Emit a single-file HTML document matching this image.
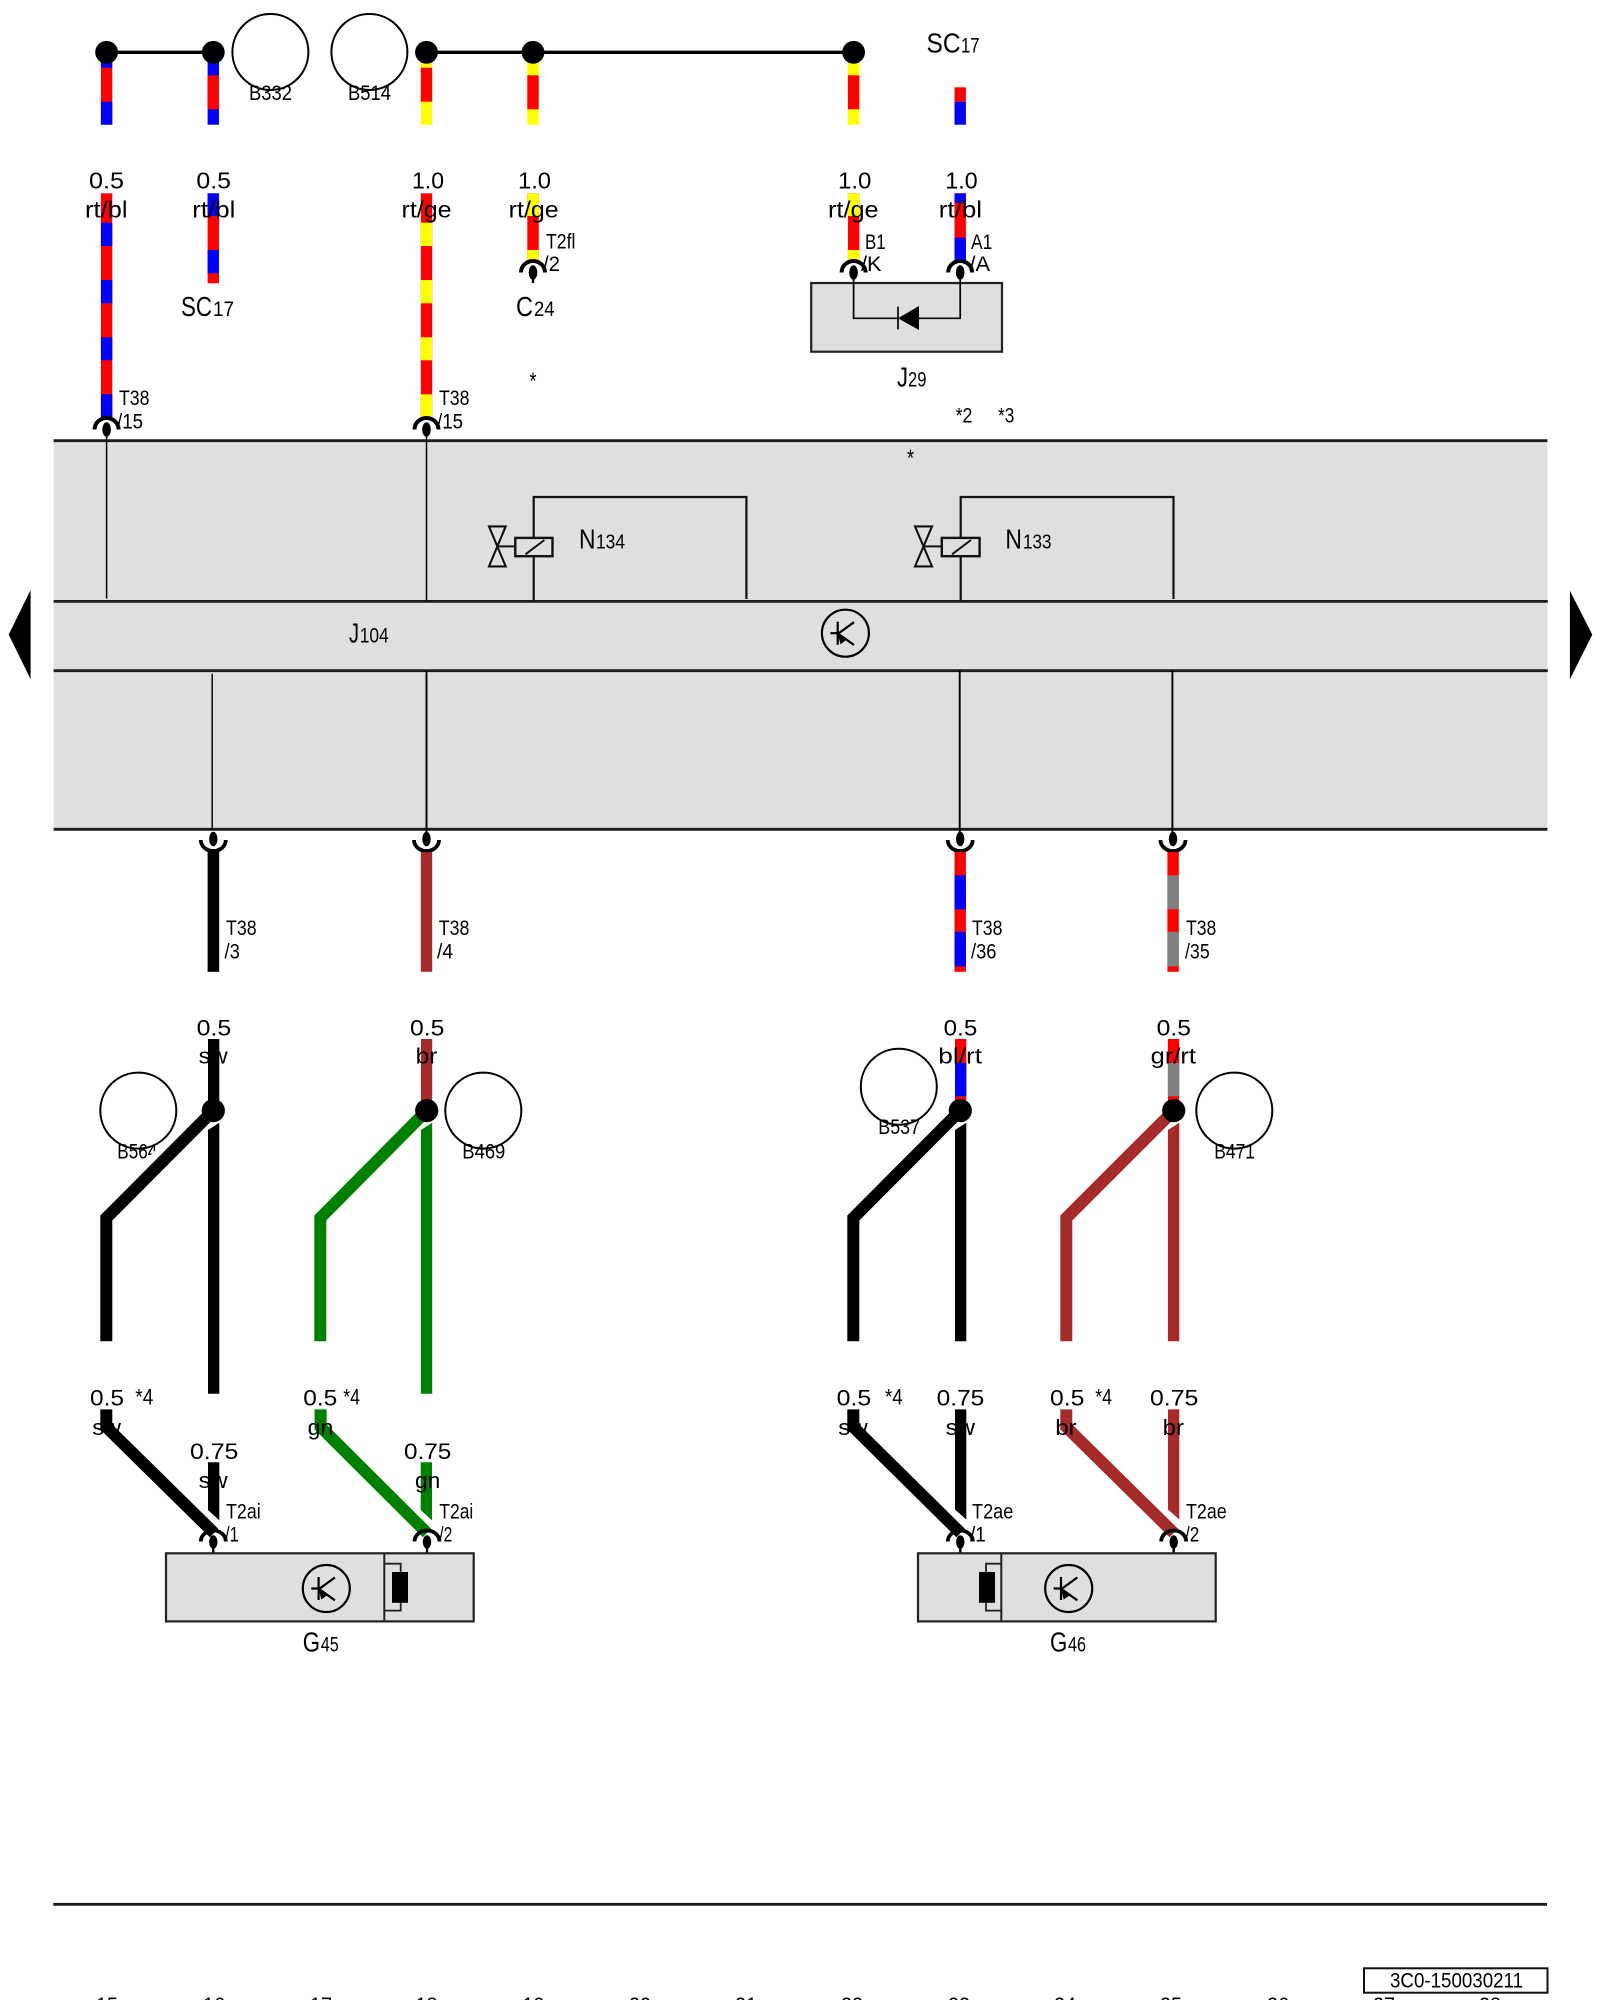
<!DOCTYPE html>
<html><head><meta charset="utf-8"><style>
html,body{margin:0;padding:0;background:#fff}
svg{display:block}
text{font-family:"Liberation Sans",sans-serif;fill:#000}
.t{fill:none;stroke:#000;stroke-width:1.7}
</style></head><body>
<svg xmlns="http://www.w3.org/2000/svg" width="1600" height="2000" viewBox="0 0 1600 2000">
<rect width="1600" height="2000" fill="#fff"/>

<!-- panel -->
<rect x="53.6" y="440.7" width="1493.8" height="388.6" fill="#dfdfdf"/>
<g stroke="#1c1c1c" stroke-width="2.8">
<line x1="53.6" y1="440.7" x2="1547.4" y2="440.7"/>
<line x1="53.6" y1="601.4" x2="1547.8" y2="601.4"/>
<line x1="53.6" y1="670.7" x2="1547.8" y2="670.7"/>
<line x1="53.6" y1="829.3" x2="1547.4" y2="829.3"/>
</g>

<!-- top bus -->
<g stroke="#000" stroke-width="3.4">
<line x1="106.6" y1="52.3" x2="213.3" y2="52.3"/>
<line x1="426.5" y1="52.3" x2="853.6" y2="52.3"/>
</g>

<!-- upper wire stubs -->
<g>
<rect x="100.9" y="60" width="11.4" height="64.7" fill="#f00"/><rect x="100.9" y="60" width="11.4" height="7.7" fill="#00f"/><rect x="100.9" y="101.7" width="11.4" height="23" fill="#00f"/>
<rect x="207.6" y="60" width="11.4" height="64.7" fill="#00f"/><rect x="207.6" y="75.3" width="11.4" height="34" fill="#f00"/>
<rect x="420.8" y="60" width="11.4" height="64.7" fill="#ff0"/><rect x="420.8" y="67.7" width="11.4" height="34" fill="#f00"/>
<rect x="527.3" y="60" width="11.4" height="64.7" fill="#ff0"/><rect x="527.3" y="75.3" width="11.4" height="34" fill="#f00"/>
<rect x="847.9" y="60" width="11.4" height="64.7" fill="#ff0"/><rect x="847.9" y="75.3" width="11.4" height="34" fill="#f00"/>
<rect x="954.5" y="87.3" width="11.4" height="14.4" fill="#f00"/><rect x="954.5" y="101.7" width="11.4" height="23" fill="#00f"/>
</g>
<g fill="#000">
<circle cx="106.6" cy="52.3" r="11.4"/><circle cx="213.3" cy="52.3" r="11.4"/><circle cx="426.5" cy="52.3" r="11.4"/><circle cx="533" cy="52.3" r="11.4"/><circle cx="853.6" cy="52.3" r="11.4"/>
</g>
<g fill="none" stroke="#000" stroke-width="2">
<circle cx="270.4" cy="52" r="38"/><circle cx="369.4" cy="52" r="38"/>
</g>
<text x="249" y="100" font-size="21" textLength="43" lengthAdjust="spacingAndGlyphs">B332</text>
<text x="348" y="100" font-size="21" textLength="43" lengthAdjust="spacingAndGlyphs">B514</text>
<text x="926.5" y="52.3" font-size="28" textLength="34" lengthAdjust="spacingAndGlyphs">SC</text>
<text x="961" y="52.3" font-size="21" textLength="18.6" lengthAdjust="spacingAndGlyphs">17</text>

<!-- long wires -->
<g>
<rect x="100.9" y="193.3" width="11.4" height="224" fill="#f00"/>
<rect x="100.9" y="222.7" width="11.4" height="23.3" fill="#00f"/><rect x="100.9" y="280" width="11.4" height="23.3" fill="#00f"/><rect x="100.9" y="337.3" width="11.4" height="23" fill="#00f"/><rect x="100.9" y="394.3" width="11.4" height="23" fill="#00f"/>
<rect x="420.8" y="193.3" width="11.4" height="224" fill="#f00"/>
<rect x="420.8" y="222.7" width="11.4" height="23.3" fill="#ff0"/><rect x="420.8" y="280" width="11.4" height="23.3" fill="#ff0"/><rect x="420.8" y="337.3" width="11.4" height="23" fill="#ff0"/><rect x="420.8" y="394.3" width="11.4" height="23" fill="#ff0"/>
<rect x="207.6" y="193.3" width="11.4" height="90" fill="#f00"/><rect x="207.6" y="193.3" width="11.4" height="22.7" fill="#00f"/><rect x="207.6" y="250" width="11.4" height="23.3" fill="#00f"/>
<rect x="527.3" y="193.3" width="11.4" height="67" fill="#f00"/><rect x="527.3" y="193.3" width="11.4" height="22.7" fill="#ff0"/><rect x="527.3" y="250" width="11.4" height="10.3" fill="#ff0"/>
<rect x="847.9" y="193.3" width="11.4" height="67" fill="#f00"/><rect x="847.9" y="193.3" width="11.4" height="22.7" fill="#ff0"/><rect x="847.9" y="250" width="11.4" height="10.3" fill="#ff0"/>
<rect x="954.5" y="193.3" width="11.4" height="67" fill="#f00"/><rect x="954.5" y="193.3" width="11.4" height="9.4" fill="#00f"/><rect x="954.5" y="237.7" width="11.4" height="22.6" fill="#00f"/>
</g>

<!-- top labels -->
<g font-size="23">
<text x="89" y="188.7" textLength="35" lengthAdjust="spacingAndGlyphs">0.5</text>
<text x="85" y="217.7" textLength="42.5" lengthAdjust="spacingAndGlyphs">rt/bl</text>
<text x="196.4" y="188.7" textLength="34.6" lengthAdjust="spacingAndGlyphs">0.5</text>
<text x="192.3" y="217.7" textLength="43" lengthAdjust="spacingAndGlyphs">rt/bl</text>
<text x="412" y="188.7" textLength="32" lengthAdjust="spacingAndGlyphs">1.0</text>
<text x="401.5" y="217.7" textLength="50" lengthAdjust="spacingAndGlyphs">rt/ge</text>
<text x="518" y="188.7" textLength="33" lengthAdjust="spacingAndGlyphs">1.0</text>
<text x="508.7" y="217.7" textLength="50" lengthAdjust="spacingAndGlyphs">rt/ge</text>
<text x="838" y="188.7" textLength="33.4" lengthAdjust="spacingAndGlyphs">1.0</text>
<text x="828" y="217.7" textLength="50.6" lengthAdjust="spacingAndGlyphs">rt/ge</text>
<text x="945.4" y="188.7" textLength="32.2" lengthAdjust="spacingAndGlyphs">1.0</text>
<text x="938.8" y="217.7" textLength="43.2" lengthAdjust="spacingAndGlyphs">rt/bl</text>
</g>
<g font-size="21">
<text x="119" y="405" textLength="30.5" lengthAdjust="spacingAndGlyphs">T38</text>
<text x="117" y="428.3" textLength="26" lengthAdjust="spacingAndGlyphs">/15</text>
<text x="439" y="405" textLength="30.5" lengthAdjust="spacingAndGlyphs">T38</text>
<text x="437" y="428.3" textLength="26" lengthAdjust="spacingAndGlyphs">/15</text>
<text x="546" y="248.3" textLength="29.5" lengthAdjust="spacingAndGlyphs">T2fl</text>
<text x="543" y="271" textLength="17" lengthAdjust="spacingAndGlyphs">/2</text>
<text x="865" y="249" textLength="20.7" lengthAdjust="spacingAndGlyphs">B1</text>
<text x="861" y="271" textLength="20.6" lengthAdjust="spacingAndGlyphs">/K</text>
<text x="971" y="249" textLength="21.3" lengthAdjust="spacingAndGlyphs">A1</text>
<text x="969.4" y="271" textLength="20.6" lengthAdjust="spacingAndGlyphs">/A</text>
<text x="955.6" y="422.6" textLength="16.8" lengthAdjust="spacingAndGlyphs">*2</text>
<text x="998" y="422.6" textLength="16.3" lengthAdjust="spacingAndGlyphs">*3</text>
</g>
<text x="181" y="316" font-size="28" textLength="31" lengthAdjust="spacingAndGlyphs">SC</text>
<text x="213" y="316" font-size="21" textLength="21" lengthAdjust="spacingAndGlyphs">17</text>
<text x="516" y="316" font-size="28" textLength="17" lengthAdjust="spacingAndGlyphs">C</text>
<text x="534" y="316" font-size="21" textLength="20.6" lengthAdjust="spacingAndGlyphs">24</text>
<text x="529.5" y="389" font-size="24" textLength="7" lengthAdjust="spacingAndGlyphs">*</text>
<text x="907" y="466" font-size="24" textLength="7" lengthAdjust="spacingAndGlyphs">*</text>

<!-- top connectors -->
<g fill="none" stroke="#000" stroke-width="4">
<path d="M94.6,429.5 A12,11.5 0 0 1 118.6,429.5"/>
<path d="M414.5,429.5 A12,11.5 0 0 1 438.5,429.5"/>
<path d="M521,272.5 A12,11.5 0 0 1 545,272.5"/>
<path d="M841.6,272.5 A12,11.5 0 0 1 865.6,272.5"/>
<path d="M948.2,272.5 A12,11.5 0 0 1 972.2,272.5"/>
</g>
<g fill="#000">
<ellipse cx="106.6" cy="429.5" rx="4.3" ry="7.3"/><ellipse cx="426.5" cy="429.5" rx="4.3" ry="7.3"/><ellipse cx="533" cy="272.5" rx="4.3" ry="7.3"/><ellipse cx="853.6" cy="272.5" rx="4.3" ry="7.3"/><ellipse cx="960.2" cy="272.5" rx="4.3" ry="7.3"/>
</g>
<g stroke="#000" stroke-width="1.5">
<line x1="106.6" y1="430" x2="106.6" y2="598.6"/>
<line x1="426.5" y1="430" x2="426.5" y2="601"/>
<line x1="533" y1="273" x2="533" y2="283" stroke-width="2.4"/>
</g>

<!-- J29 -->
<rect x="811.2" y="283" width="190.8" height="68.7" fill="#dfdfdf" stroke="#222" stroke-width="2.2"/>
<path d="M853.6,273 V318.3 H898 M919,318.3 H960.2 V273" class="t"/>
<line x1="898" y1="306.7" x2="898" y2="329.3" stroke="#000" stroke-width="1.7"/>
<polygon points="898,318.3 919,306 919,330" fill="#000"/>
<text x="897" y="386.7" font-size="28" textLength="11" lengthAdjust="spacingAndGlyphs">J</text>
<text x="908" y="386.7" font-size="21" textLength="18.5" lengthAdjust="spacingAndGlyphs">29</text>

<!-- N134 -->
<path d="M533.7,601 V497 H746.4 V599" fill="none" stroke="#111" stroke-width="2.2"/>
<rect x="515.3" y="537.9" width="37.2" height="18.3" fill="#dfdfdf" stroke="#111" stroke-width="2.4"/>
<line x1="525.5" y1="554.3" x2="544.4" y2="540" stroke="#111" stroke-width="2"/>
<line x1="497.5" y1="546.4" x2="515.3" y2="546.4" stroke="#111" stroke-width="2"/>
<path d="M489,526.4 H505.7 L489,566.4 H505.7 Z" fill="none" stroke="#111" stroke-width="2.1"/>
<text x="579" y="548.4" font-size="28" textLength="16.5" lengthAdjust="spacingAndGlyphs">N</text>
<text x="596" y="548.4" font-size="20" textLength="29" lengthAdjust="spacingAndGlyphs">134</text>

<!-- N133 -->
<path d="M960.7,601 V497 H1173.5 V599" fill="none" stroke="#111" stroke-width="2.2"/>
<rect x="941.8" y="537.9" width="37.8" height="18.3" fill="#dfdfdf" stroke="#111" stroke-width="2.4"/>
<line x1="952" y1="554.3" x2="971" y2="540" stroke="#111" stroke-width="2"/>
<line x1="923.4" y1="546.4" x2="941.8" y2="546.4" stroke="#111" stroke-width="2"/>
<path d="M915,526.4 H932 L915,566.4 H932 Z" fill="none" stroke="#111" stroke-width="2.1"/>
<text x="1005.4" y="548.4" font-size="28" textLength="16.5" lengthAdjust="spacingAndGlyphs">N</text>
<text x="1023" y="548.4" font-size="20" textLength="28.5" lengthAdjust="spacingAndGlyphs">133</text>

<!-- arrows -->
<polygon points="8.7,634.6 30.6,590 30.6,679.3" fill="#000"/>
<polygon points="1569.9,590.7 1592.3,634.6 1569.9,679.3" fill="#000"/>

<!-- J104 -->
<text x="349" y="642.5" font-size="28" textLength="10" lengthAdjust="spacingAndGlyphs">J</text>
<text x="359.7" y="642.5" font-size="21" textLength="29" lengthAdjust="spacingAndGlyphs">104</text>

<!-- transistor J104 -->
<g transform="translate(845.4,633.2)">
<circle r="23.5" fill="none" stroke="#000" stroke-width="2.2"/>
<path d="M-7.7,-11.5 V11.5 M-15,0 H-7.7 M-7.7,0.8 L8.6,-11 M-5.4,1.8 L8.6,11.8" fill="none" stroke="#000" stroke-width="2.2"/>
<polygon points="-8,-1 2,6 -5,11" fill="#000"/>
</g>

<!-- drop lines -->
<g stroke="#000">
<line x1="212.2" y1="673.6" x2="212.2" y2="830" stroke-width="1.4"/>
<line x1="426.5" y1="671" x2="426.5" y2="840" stroke-width="1.9"/>
<line x1="959.7" y1="670" x2="959.7" y2="840" stroke-width="1.9"/>
<line x1="1172.4" y1="670" x2="1172.4" y2="840" stroke-width="1.9"/>
</g>
<!-- lower connectors -->
<g fill="none" stroke="#000" stroke-width="3.8">
<path d="M200.8,840 A12.5,11 0 0 0 225.8,840"/>
<path d="M414,840 A12.5,11 0 0 0 439,840"/>
<path d="M947.7,840 A12.5,11 0 0 0 972.7,840"/>
<path d="M1160.5,840 A12.5,11 0 0 0 1185.5,840"/>
</g>
<g fill="#000">
<ellipse cx="213.3" cy="839" rx="4.2" ry="7.3"/><ellipse cx="426.5" cy="839" rx="4.2" ry="7.3"/><ellipse cx="960.2" cy="839" rx="4.2" ry="7.3"/><ellipse cx="1173" cy="839" rx="4.2" ry="7.3"/>
</g>
<!-- wires under panel -->
<rect x="207.6" y="852" width="11.6" height="119.8" fill="#000"/>
<rect x="420.8" y="852" width="11.4" height="119.8" fill="#a52a2a"/>
<rect x="954.5" y="852" width="11.4" height="119.8" fill="#f00"/>
<rect x="954.5" y="875.4" width="11.4" height="33.9" fill="#00f"/><rect x="954.5" y="931.8" width="11.4" height="34.6" fill="#00f"/>
<rect x="1167.4" y="852" width="11.4" height="119.8" fill="#f00"/>
<rect x="1167.4" y="875.4" width="11.4" height="33.9" fill="#808080"/><rect x="1167.4" y="931.8" width="11.4" height="34.6" fill="#808080"/>
<g font-size="21">
<text x="226" y="934.8" textLength="30.6" lengthAdjust="spacingAndGlyphs">T38</text>
<text x="224.5" y="958.3" textLength="15.3" lengthAdjust="spacingAndGlyphs">/3</text>
<text x="438.8" y="934.8" textLength="30.6" lengthAdjust="spacingAndGlyphs">T38</text>
<text x="437" y="958.3" textLength="16" lengthAdjust="spacingAndGlyphs">/4</text>
<text x="972" y="934.8" textLength="30.5" lengthAdjust="spacingAndGlyphs">T38</text>
<text x="971" y="958.3" textLength="25.4" lengthAdjust="spacingAndGlyphs">/36</text>
<text x="1186" y="934.8" textLength="30.3" lengthAdjust="spacingAndGlyphs">T38</text>
<text x="1185" y="958.3" textLength="24.7" lengthAdjust="spacingAndGlyphs">/35</text>
</g>

<!-- sense circles/labels -->
<g fill="none" stroke="#000" stroke-width="2">
<circle cx="138.3" cy="1110.6" r="38"/><circle cx="483.3" cy="1110.6" r="38"/><circle cx="898.8" cy="1086.7" r="38"/><circle cx="1234.3" cy="1110.6" r="38"/>
</g>
<g font-size="21">
<text x="117.3" y="1158.5" textLength="40" lengthAdjust="spacingAndGlyphs">B564</text>
<text x="462.3" y="1158.5" textLength="43" lengthAdjust="spacingAndGlyphs">B469</text>
<text x="878.3" y="1134" textLength="41.7" lengthAdjust="spacingAndGlyphs">B537</text>
<text x="1214.3" y="1158.5" textLength="40.7" lengthAdjust="spacingAndGlyphs">B471</text>
</g>
<line x1="200" y1="1124" x2="140" y2="1184" stroke="#fff" stroke-width="26"/>

<!-- junction tops -->
<rect x="208" y="1039" width="11.3" height="72" fill="#000"/>
<rect x="420.9" y="1039" width="11.3" height="72" fill="#a52a2a"/>
<rect x="955" y="1039" width="11.3" height="72" fill="#f00"/><rect x="955" y="1063" width="11.3" height="33.3" fill="#00f"/>
<rect x="1167.9" y="1039" width="11.3" height="72" fill="#f00"/><rect x="1167.9" y="1063" width="11.3" height="33.3" fill="#808080"/>

<!-- branches -->
<g fill="none" stroke-width="12">
<path d="M213.3,1110.6 L106.3,1218 V1341.3" stroke="#000"/>
<path d="M426.7,1110.6 L320.3,1218 V1341.3" stroke="#008000"/>
<path d="M960.3,1110.6 L853.3,1218 V1341.3" stroke="#000"/>
<path d="M1173.7,1110.6 L1066.3,1218 V1341.3" stroke="#a52a2a"/>
</g>
<polygon points="208,1130 219.3,1122.7 219.3,1393.8 208,1393.8" fill="#000"/>
<polygon points="420.9,1130 432.2,1122.7 432.2,1393.8 420.9,1393.8" fill="#008000"/>
<polygon points="955,1130 966.3,1122.7 966.3,1341.3 955,1341.3" fill="#000"/>
<polygon points="1167.9,1130 1179.3,1122.7 1179.3,1341.3 1167.9,1341.3" fill="#a52a2a"/>
<g fill="#000">
<circle cx="213.3" cy="1110.6" r="11.6"/><circle cx="426.7" cy="1110.6" r="11.6"/><circle cx="960.3" cy="1110.6" r="11.6"/><circle cx="1173.7" cy="1110.6" r="11.6"/>
</g>

<g font-size="22">
<text x="196.7" y="1035.6" textLength="34.6" lengthAdjust="spacingAndGlyphs">0.5</text>
<text x="198.7" y="1063.7" textLength="29" lengthAdjust="spacingAndGlyphs">sw</text>
<text x="410" y="1035.6" textLength="34.3" lengthAdjust="spacingAndGlyphs">0.5</text>
<text x="415.7" y="1063.7" textLength="21.6" lengthAdjust="spacingAndGlyphs">br</text>
<text x="943.7" y="1035.6" textLength="33.6" lengthAdjust="spacingAndGlyphs">0.5</text>
<text x="938.3" y="1063.7" textLength="43.7" lengthAdjust="spacingAndGlyphs">bl/rt</text>
<text x="1156.7" y="1035.6" textLength="34.3" lengthAdjust="spacingAndGlyphs">0.5</text>
<text x="1150.7" y="1063.7" textLength="45.3" lengthAdjust="spacingAndGlyphs">gr/rt</text>
</g>

<!-- lower wires -->
<g fill="none" stroke-width="12">
<path d="M106.3,1409.4 V1427 L214,1533" stroke="#000"/>
<path d="M320.6,1409.4 V1427 L427,1533" stroke="#008000"/>
<path d="M853.3,1409.4 V1427 L960.6,1533" stroke="#000"/>
<path d="M1066.3,1409.4 V1427 L1173.8,1533" stroke="#a52a2a"/>
</g>
<polygon points="208,1462.3 219.3,1462.3 219.3,1520.4 208,1510" fill="#000"/>
<polygon points="420.7,1462.3 432,1462.3 432,1520.4 420.7,1510" fill="#008000"/>
<polygon points="955,1409.4 966.3,1409.4 966.3,1519.5 955,1509.5" fill="#000"/>
<polygon points="1168,1409.4 1179.3,1409.4 1179.3,1519.5 1168,1509.5" fill="#a52a2a"/>

<g font-size="22">
<text x="90" y="1405.5" textLength="34" lengthAdjust="spacingAndGlyphs">0.5</text>
<text x="135.3" y="1404.6" textLength="18" lengthAdjust="spacingAndGlyphs">*4</text>
<text x="92.3" y="1435" textLength="28.7" lengthAdjust="spacingAndGlyphs">sw</text>
<text x="190" y="1458.8" textLength="48.3" lengthAdjust="spacingAndGlyphs">0.75</text>
<text x="198.7" y="1487.9" textLength="29" lengthAdjust="spacingAndGlyphs">sw</text>
<text x="303.3" y="1405.5" textLength="34" lengthAdjust="spacingAndGlyphs">0.5</text>
<text x="343.3" y="1404.6" textLength="16.7" lengthAdjust="spacingAndGlyphs">*4</text>
<text x="307.7" y="1435" textLength="25.6" lengthAdjust="spacingAndGlyphs">gn</text>
<text x="404" y="1458.8" textLength="47.3" lengthAdjust="spacingAndGlyphs">0.75</text>
<text x="415" y="1487.9" textLength="25.3" lengthAdjust="spacingAndGlyphs">gn</text>
<text x="836.7" y="1405.5" textLength="34.6" lengthAdjust="spacingAndGlyphs">0.5</text>
<text x="885" y="1404.6" textLength="17.7" lengthAdjust="spacingAndGlyphs">*4</text>
<text x="936.7" y="1405.5" textLength="47.6" lengthAdjust="spacingAndGlyphs">0.75</text>
<text x="838.3" y="1435" textLength="29.4" lengthAdjust="spacingAndGlyphs">sw</text>
<text x="945.7" y="1435" textLength="29.3" lengthAdjust="spacingAndGlyphs">sw</text>
<text x="1050" y="1405.5" textLength="34.3" lengthAdjust="spacingAndGlyphs">0.5</text>
<text x="1095.3" y="1404.6" textLength="16.7" lengthAdjust="spacingAndGlyphs">*4</text>
<text x="1150" y="1405.5" textLength="48.3" lengthAdjust="spacingAndGlyphs">0.75</text>
<text x="1055.3" y="1435" textLength="21.4" lengthAdjust="spacingAndGlyphs">br</text>
<text x="1162.7" y="1435" textLength="21.3" lengthAdjust="spacingAndGlyphs">br</text>
</g>
<g font-size="21">
<text x="226" y="1518.6" textLength="34.7" lengthAdjust="spacingAndGlyphs">T2ai</text>
<text x="225" y="1541.3" textLength="13.7" lengthAdjust="spacingAndGlyphs">/1</text>
<text x="439.3" y="1518.6" textLength="34" lengthAdjust="spacingAndGlyphs">T2ai</text>
<text x="439.3" y="1541.3" textLength="13" lengthAdjust="spacingAndGlyphs">/2</text>
<text x="972" y="1518.6" textLength="41.3" lengthAdjust="spacingAndGlyphs">T2ae</text>
<text x="970" y="1541.3" textLength="15.7" lengthAdjust="spacingAndGlyphs">/1</text>
<text x="1186" y="1518.6" textLength="40.7" lengthAdjust="spacingAndGlyphs">T2ae</text>
<text x="1185" y="1541.3" textLength="14.3" lengthAdjust="spacingAndGlyphs">/2</text>
</g>

<!-- bottom connectors -->
<g fill="none" stroke="#000" stroke-width="3.8">
<path d="M200.8,1541.5 A12.5,11 0 0 1 225.8,1541.5"/>
<path d="M414.5,1541.5 A12.5,11 0 0 1 439.5,1541.5"/>
<path d="M947.8,1541.5 A12.5,11 0 0 1 972.8,1541.5"/>
<path d="M1161.2,1541.5 A12.5,11 0 0 1 1186.2,1541.5"/>
</g>
<g fill="#000">
<ellipse cx="213.3" cy="1542" rx="4.2" ry="6.8"/><ellipse cx="427" cy="1542" rx="4.2" ry="6.8"/><ellipse cx="960.3" cy="1542" rx="4.2" ry="6.8"/><ellipse cx="1173.7" cy="1542" rx="4.2" ry="6.8"/>
</g>
<g stroke="#000" stroke-width="2.4">
<line x1="213.3" y1="1542" x2="213.3" y2="1554"/><line x1="427" y1="1542" x2="427" y2="1554"/><line x1="960.3" y1="1542" x2="960.3" y2="1554"/><line x1="1173.7" y1="1542" x2="1173.7" y2="1554"/>
</g>

<!-- G45 -->
<rect x="166" y="1553.3" width="307.7" height="68.1" fill="#dfdfdf" stroke="#222" stroke-width="2.2"/>
<line x1="384.3" y1="1553.3" x2="384.3" y2="1621.4" stroke="#222" stroke-width="2"/>
<path d="M384.3,1563.7 H400.7 V1572 M400.7,1602.8 V1610.6 H384.3" fill="none" stroke="#222" stroke-width="1.8"/>
<rect x="392" y="1572" width="16" height="30.8" fill="#000"/>
<g transform="translate(326.3,1588.5)">
<circle r="23.5" fill="none" stroke="#000" stroke-width="2.2"/>
<path d="M-7.7,-11.5 V11.5 M-15,0 H-7.7 M-7.7,0.8 L8.6,-11 M-5.4,1.8 L8.6,11.8" fill="none" stroke="#000" stroke-width="2.2"/>
<polygon points="-8,-1 2,6 -5,11" fill="#000"/>
</g>
<text x="302.7" y="1651.3" font-size="28" textLength="17.3" lengthAdjust="spacingAndGlyphs">G</text>
<text x="320.7" y="1651.3" font-size="21" textLength="18" lengthAdjust="spacingAndGlyphs">45</text>

<!-- G46 -->
<rect x="918" y="1553.3" width="297.7" height="68.1" fill="#dfdfdf" stroke="#222" stroke-width="2.2"/>
<line x1="1001.3" y1="1553.3" x2="1001.3" y2="1621.4" stroke="#222" stroke-width="2"/>
<path d="M1001.3,1563.7 H986 V1572 M986,1602.8 V1610.6 H1001.3" fill="none" stroke="#222" stroke-width="1.8"/>
<rect x="979" y="1572" width="16" height="30.8" fill="#000"/>
<g transform="translate(1068.7,1588.5)">
<circle r="23.5" fill="none" stroke="#000" stroke-width="2.2"/>
<path d="M-7.7,-11.5 V11.5 M-15,0 H-7.7 M-7.7,0.8 L8.6,-11 M-5.4,1.8 L8.6,11.8" fill="none" stroke="#000" stroke-width="2.2"/>
<polygon points="-8,-1 2,6 -5,11" fill="#000"/>
</g>
<text x="1050" y="1651.3" font-size="28" textLength="17.3" lengthAdjust="spacingAndGlyphs">G</text>
<text x="1068" y="1651.3" font-size="21" textLength="18" lengthAdjust="spacingAndGlyphs">46</text>

<!-- footer -->
<line x1="53.3" y1="1904.3" x2="1547" y2="1904.3" stroke="#1c1c1c" stroke-width="2.8"/>
<rect x="1364" y="1968.3" width="183.5" height="24.4" fill="#fff" stroke="#111" stroke-width="2"/>
<text x="1390" y="1987.5" font-size="21" textLength="133" lengthAdjust="spacingAndGlyphs">3C0-150030211</text>
<g font-size="21">
<text x="96" y="2012" textLength="22" lengthAdjust="spacingAndGlyphs">15</text>
<text x="203" y="2012" textLength="22" lengthAdjust="spacingAndGlyphs">16</text>
<text x="310" y="2012" textLength="22" lengthAdjust="spacingAndGlyphs">17</text>
<text x="415.5" y="2012" textLength="22" lengthAdjust="spacingAndGlyphs">18</text>
<text x="522.5" y="2012" textLength="22" lengthAdjust="spacingAndGlyphs">19</text>
<text x="629" y="2012" textLength="22" lengthAdjust="spacingAndGlyphs">20</text>
<text x="735" y="2012" textLength="22" lengthAdjust="spacingAndGlyphs">21</text>
<text x="841" y="2012" textLength="22" lengthAdjust="spacingAndGlyphs">22</text>
<text x="948" y="2012" textLength="22" lengthAdjust="spacingAndGlyphs">23</text>
<text x="1054" y="2012" textLength="22" lengthAdjust="spacingAndGlyphs">24</text>
<text x="1160" y="2012" textLength="22" lengthAdjust="spacingAndGlyphs">25</text>
<text x="1267" y="2012" textLength="22" lengthAdjust="spacingAndGlyphs">26</text>
<text x="1373" y="2012" textLength="22" lengthAdjust="spacingAndGlyphs">27</text>
<text x="1479" y="2012" textLength="22" lengthAdjust="spacingAndGlyphs">28</text>
</g>
</svg>
</body></html>
